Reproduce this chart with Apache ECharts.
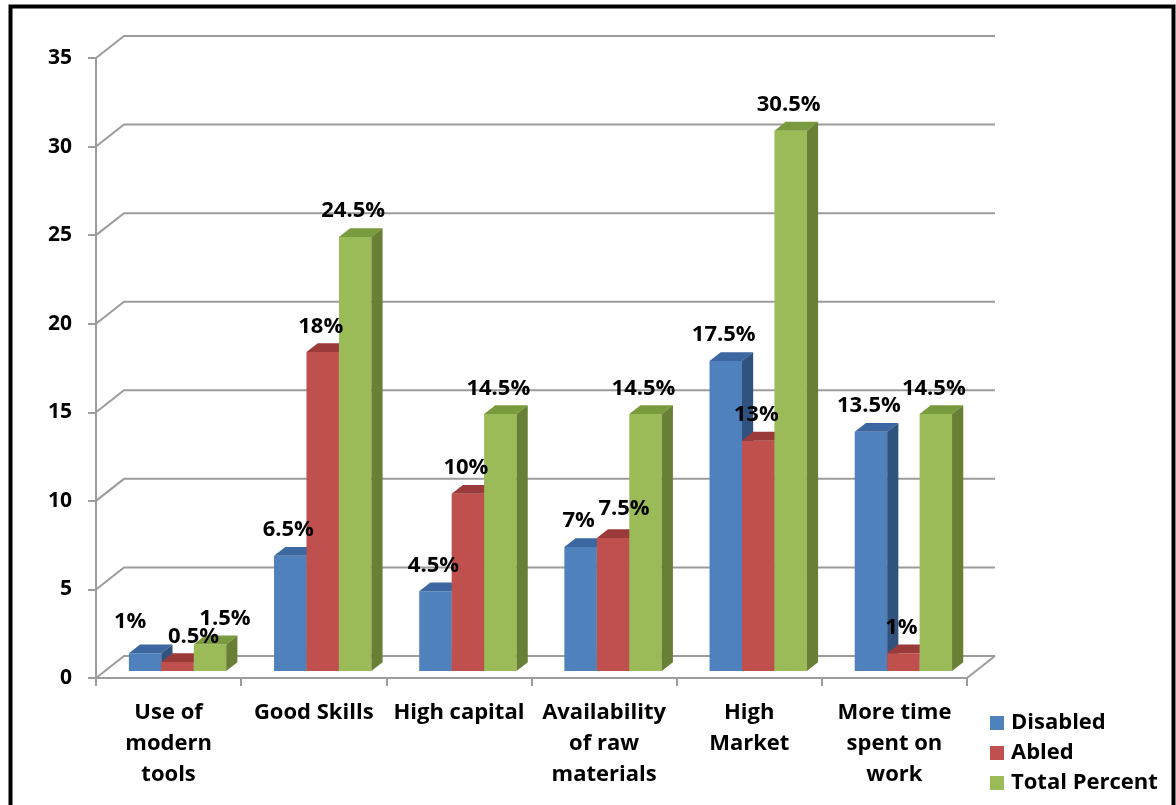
<!DOCTYPE html>
<html>
<head>
<meta charset="utf-8">
<title>Factors by group</title>
<script src="https://cdn.jsdelivr.net/npm/echarts@6/dist/echarts.min.js"></script>
<style>
  html, body { margin: 0; padding: 0; background: #fff; }
  #chart { width: 1176px; height: 805px; }
</style>
</head>
<body>
<div id="chart"></div>
<script>
// Categories (multi-line labels as drawn under the floor)
const categories = [
  'Use of\nmodern\ntools',
  'Good Skills',
  'High capital',
  'Availability\nof raw\nmaterials',
  'High\nMarket',
  'More time\nspent on\nwork'
];

// Series values (percent)
const disabled     = [1, 6.5, 4.5, 7, 17.5, 13.5];
const abled        = [0.5, 18, 10, 7.5, 13, 1];
const totalPercent = [1.5, 24.5, 14.5, 14.5, 30.5, 14.5];

// Value-axis ticks (also used for the back-wall grid lines)
const valueTicks = [0, 5, 10, 15, 20, 25, 30, 35];

const FONT = "'Open Sans', 'Liberation Sans', sans-serif";

// Pseudo-3D geometry (pixels)
const WALL_DX = 28, WALL_DY = -22;       // full floor depth
const BAR_POS = 0.32;                      // bar front face depth fraction
const BAR_DEPTH = 0.4;                     // bar thickness as depth fraction
const BAR_FRAC = 0.2235;                   // bar width relative to category band

const seriesDefs = [
  { name: 'Disabled',      values: disabled,     front: '#4F81BD', top: '#3D67A0', side: '#30527F' },
  { name: 'Abled',         values: abled,        front: '#C0504D', top: '#9A3B39', side: '#85302E' },
  { name: 'Total Percent', values: totalPercent, front: '#9BBB59', top: '#7A9A3E', side: '#687F35' }
];

// Hand-placed label shifts where neighbouring labels would collide
const labelNudge = { '0-0': [-13, -6], '1-0': [18, 0], '2-0': [17, 0], '1-3': [13, -4] };

function wallRenderer(params, api) {
  const cs = params.coordSys;
  const left = cs.x, right = cs.x + cs.width;
  const v = api.value(1);
  const y = api.coord([0, v])[1];
  const style = { stroke: '#9c9c9c', lineWidth: 2, fill: null };
  const children = [{
    type: 'polyline',
    shape: { points: [[left, y], [left + WALL_DX, y + WALL_DY], [right + WALL_DX, y + WALL_DY]] },
    style: style
  }];
  if (v === 0) {
    children.push({
      type: 'line',
      shape: { x1: right, y1: y, x2: right + WALL_DX, y2: y + WALL_DY },
      style: style
    });
  }
  return { type: 'group', children: children };
}

function barRenderer(k, def) {
  return function (params, api) {
    const cat = api.value(0), v = api.value(1);
    const p0 = api.coord([cat, 0]);
    const p1 = api.coord([cat, v]);
    const band = api.size([1, 0])[0];
    const bw = band * BAR_FRAC;
    const ox = WALL_DX * BAR_POS, oy = WALL_DY * BAR_POS;
    const dx = WALL_DX * BAR_DEPTH, dy = WALL_DY * BAR_DEPTH;
    const x0 = p0[0] - 1.5 * bw + k * bw + ox;
    const x1 = x0 + bw;
    const yb = p0[1] + oy;
    const yt = p1[1] + oy;
    const nudge = labelNudge[k + '-' + cat] || [0, 0];
    return {
      type: 'group',
      children: [
        { type: 'polygon', shape: { points: [[x0, yt], [x1, yt], [x1, yb], [x0, yb]] },
          style: { fill: def.front } },
        { type: 'polygon', shape: { points: [[x0, yt], [x1, yt], [x1 + dx, yt + dy], [x0 + dx, yt + dy]] },
          style: { fill: def.top } },
        { type: 'polygon', shape: { points: [[x1, yt], [x1 + dx, yt + dy], [x1 + dx, yb + dy], [x1, yb]] },
          style: { fill: def.side } },
        { type: 'text', z2: 100,
          style: {
            text: v + '%',
            x: (x0 + x1) / 2 - 2 + nudge[0],
            y: yt + dy - 6 + nudge[1],
            align: 'center', verticalAlign: 'bottom',
            fontFamily: FONT, fontWeight: 'bold', fontSize: 22, fill: '#000'
          } }
      ]
    };
  };
}

const chart = echarts.init(document.getElementById('chart'), null, { renderer: 'canvas' });

const series = [{
  type: 'custom',
  name: 'wall',
  silent: true,
  z: 1,
  renderItem: wallRenderer,
  encode: { x: 0, y: 1 },
  data: valueTicks.map(t => [0, t])
}].concat(seriesDefs.map((def, k) => ({
  type: 'custom',
  name: def.name,
  z: 2,
  itemStyle: { color: def.front },
  renderItem: barRenderer(k, def),
  encode: { x: 0, y: 1 },
  data: categories.map((c, i) => [i, def.values[i]])
})));

chart.setOption({
  animation: false,
  backgroundColor: '#fff',
  grid: { left: 96, right: 209, top: 58, bottom: 127, containLabel: false },
  xAxis: {
    type: 'category',
    data: categories,
    boundaryGap: true,
    axisLine: { show: true, lineStyle: { color: '#9c9c9c', width: 2 } },
    axisTick: { show: true, interval: 0, length: 8, lineStyle: { color: '#9c9c9c', width: 2 } },
    axisLabel: {
      interval: 0, margin: 19, color: '#000',
      fontFamily: FONT, fontWeight: 'bold', fontSize: 22, lineHeight: 31
    },
    splitLine: { show: false }
  },
  yAxis: {
    type: 'value',
    min: 0, max: 35, interval: 5,
    axisLine: { show: true, lineStyle: { color: '#9c9c9c', width: 2 } },
    axisTick: { show: true, length: 8, lineStyle: { color: '#9c9c9c', width: 2 } },
    axisLabel: {
      margin: 24, color: '#000', padding: [6, 0, 0, 0],
      fontFamily: FONT, fontWeight: 'bold', fontSize: 21
    },
    splitLine: { show: false }
  },
  legend: {
    orient: 'vertical',
    left: 985, top: 707,
    icon: 'rect',
    itemWidth: 14, itemHeight: 14,
    itemGap: 8,
    data: seriesDefs.map(d => d.name),
    textStyle: { fontFamily: FONT, fontWeight: 'bold', fontSize: 22, lineHeight: 22, color: '#000', padding: [0, 0, 0, 2] }
  },
  graphic: [{
    type: 'rect',
    silent: true,
    z: 100,
    shape: { x: 10.5, y: 6.5, width: 1163, height: 830 },
    style: { fill: null, stroke: '#000', lineWidth: 4 }
  }],
  series: series
});
</script>
</body>
</html>
